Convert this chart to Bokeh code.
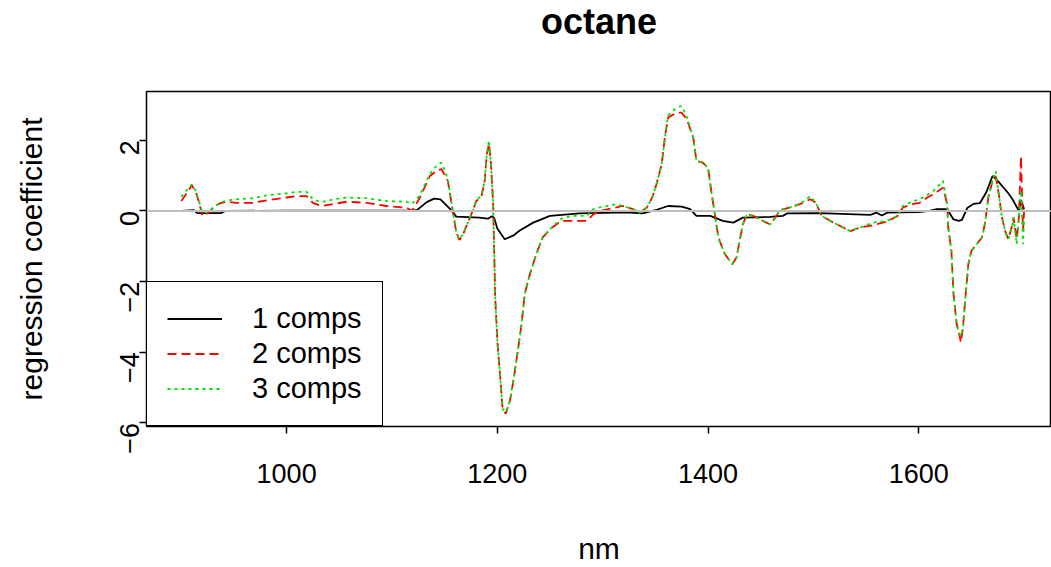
import math
from bokeh.plotting import figure
from bokeh.models import Span, Legend, LegendItem, FixedTicker, Range1d, Title
from bokeh.embed import file_html
from bokeh.resources import INLINE

# ---- data ----
title_text = "octane"
x_label = "nm"
y_label = "regression coefficient"
series_names = ["1 comps", "2 comps", "3 comps"]
x_ticks = [1000, 1200, 1400, 1600]
y_ticks = [-6, -4, -2, 0, 2]

nm_1 = [900, 912, 915, 938, 942, 1000, 1120, 1124, 1133, 1140, 1146, 1157, 1161, 1183,
        1191, 1195, 1197, 1200, 1207, 1215, 1221, 1234, 1250, 1278, 1313, 1326, 1338,
        1350, 1362, 1375, 1383, 1389, 1402, 1414, 1424, 1433, 1459, 1471, 1475, 1506,
        1554, 1560, 1565, 1570, 1582, 1600, 1610, 1617, 1627, 1633, 1638, 1641, 1646,
        1652, 1658, 1664, 1670, 1675, 1685, 1689, 1695, 1697, 1700]
comp1 = [0.0, 0.02, -0.06, -0.06, 0.0, 0.01, 0.01, 0.03, 0.25, 0.35, 0.33, 0.0, -0.16, -0.19,
         -0.22, -0.15, -0.2, -0.5, -0.8, -0.7, -0.56, -0.33, -0.14, -0.07, -0.05, -0.05, -0.07,
         0.02, 0.14, 0.12, 0.05, -0.14, -0.14, -0.28, -0.33, -0.19, -0.17, -0.14, -0.07, -0.06,
         -0.11, -0.05, -0.13, -0.05, -0.04, -0.03, 0.0, 0.05, 0.05, -0.24, -0.28, -0.25, 0.08,
         0.2, 0.22, 0.52, 0.99, 0.85, 0.5, 0.33, 0.0, 0.3, 0.05]

nm_23 = [900, 904, 910, 914, 917, 920, 926, 932, 938, 944, 952, 968, 981, 1000, 1010, 1019,
         1025, 1033, 1045, 1057, 1076, 1095, 1114, 1119, 1126, 1136, 1143, 1147, 1153, 1158,
         1161, 1164, 1167, 1172, 1176, 1180, 1185, 1188, 1190, 1192, 1194, 1196, 1198, 1200,
         1203, 1205, 1208, 1212, 1215, 1219, 1223, 1226, 1231, 1237, 1243, 1252, 1261, 1270,
         1285, 1291, 1297, 1313, 1319, 1329, 1335, 1342, 1347, 1351, 1356, 1359, 1362, 1370,
         1375, 1380, 1386, 1389, 1395, 1400, 1403, 1406, 1409, 1411, 1416, 1423, 1427, 1430,
         1433, 1437, 1443, 1452, 1459, 1465, 1468, 1478, 1487, 1497, 1502, 1508, 1519, 1535,
         1544, 1557, 1570, 1580, 1585, 1595, 1601, 1608, 1614, 1623, 1627, 1628, 1631, 1633,
         1635, 1636, 1638, 1640, 1642, 1644, 1646, 1647, 1650, 1655, 1660, 1663, 1666, 1670,
         1673, 1676, 1679, 1682, 1685, 1689, 1690, 1693, 1695, 1697, 1699, 1700]
comp2 = [0.28, 0.45, 0.73, 0.52, 0.23, -0.14, -0.05, 0.14, 0.23, 0.26, 0.23, 0.23, 0.30, 0.38,
         0.42, 0.42, 0.23, 0.14, 0.20, 0.26, 0.23, 0.14, 0.09, 0.0, 0.35, 0.99, 1.15, 1.18, 0.85,
         -0.05, -0.6, -0.82, -0.70, -0.33, -0.05, 0.28, 0.42, 0.85, 1.6, 1.9, 1.33, 0.2, -2.45,
         -3.67, -4.8, -5.6, -5.74, -5.37, -4.85, -4.05, -3.2, -2.35, -1.78, -1.22, -0.75, -0.47,
         -0.28, -0.28, -0.28, -0.10, 0.0, 0.10, 0.14, 0.05, -0.05, 0.1, 0.38, 0.75, 1.32, 2.07,
         2.64, 2.78, 2.78, 2.59, 2.07, 1.41, 1.37, 1.22, 0.57, 0.0, -0.6, -0.85, -1.22, -1.51,
         -1.32, -0.85, -0.38, -0.09, -0.14, -0.28, -0.38, -0.14, 0.02, 0.1, 0.19, 0.33, 0.24,
         -0.14, -0.33, -0.57, -0.47, -0.40, -0.30, -0.14, 0.10, 0.20, 0.23, 0.38, 0.47, 0.66,
         0.19, -0.47, -1.13, -2.36, -2.92, -3.2, -3.44, -3.72, -3.3, -2.54, -1.88, -1.51, -1.13,
         -0.94, -0.75, -0.33, 0.38, 0.85, 0.99, 0.47, -0.19, -0.57, -0.8, -0.38, -0.19, -0.8,
         -0.19, 1.55, -0.57, 0.0]
comp3 = [0.40, 0.55, 0.75, 0.55, 0.25, -0.05, -0.02, 0.14, 0.25, 0.30, 0.33, 0.36, 0.44, 0.50,
         0.54, 0.54, 0.33, 0.25, 0.33, 0.38, 0.36, 0.28, 0.26, 0.2, 0.42, 1.05, 1.30, 1.37, 0.90,
         -0.05, -0.6, -0.80, -0.68, -0.33, -0.05, 0.28, 0.45, 0.85, 1.6, 2.0, 1.33, 0.2, -2.45,
         -3.67, -4.8, -5.6, -5.70, -5.37, -4.85, -4.05, -3.2, -2.35, -1.78, -1.22, -0.75, -0.45,
         -0.22, -0.14, -0.14, 0.05, 0.10, 0.19, 0.14, 0.05, -0.05, 0.1, 0.38, 0.75, 1.32, 2.07,
         2.70, 2.92, 2.97, 2.65, 2.07, 1.41, 1.37, 1.22, 0.57, 0.0, -0.6, -0.85, -1.22, -1.51,
         -1.32, -0.85, -0.38, -0.09, -0.14, -0.28, -0.38, -0.14, 0.02, 0.1, 0.19, 0.42, 0.24,
         -0.14, -0.33, -0.57, -0.47, -0.33, -0.28, -0.14, 0.14, 0.28, 0.33, 0.45, 0.57, 0.85,
         0.19, -0.47, -1.13, -2.36, -2.92, -3.2, -3.44, -3.55, -3.3, -2.54, -1.88, -1.51, -1.13,
         -0.94, -0.75, -0.33, 0.38, 0.85, 1.13, 0.47, -0.19, -0.57, -0.8, -0.38, -0.19, -0.94,
         -0.19, 0.57, -0.94, -0.2]

FONT = "Liberation Sans"

p = figure(width=1051, height=567, output_backend="svg", toolbar_location=None,
           x_range=Range1d(867, 1726), y_range=Range1d(-6.1, 3.38),
           min_border_left=146, min_border_right=0, min_border_top=91, min_border_bottom=141,
           title=title_text)

p.title.text_font = FONT
p.title.text_font_size = "36px"
p.title.text_font_style = "bold"
p.title.text_color = "black"
p.title.align = "center"
p.title.vertical_align = "top"
p.title.standoff = 0

# invisible spacer between the title and the frame
p.add_layout(Title(text=" ", text_font_size="1px", standoff=45), "above")

p.xgrid.visible = False
p.ygrid.visible = False
p.outline_line_color = "black"
p.outline_line_width = 1.5
p.outline_line_alpha = 1.0
p.background_fill_color = "white"
p.border_fill_color = "white"

for ax in (p.xaxis[0], p.yaxis[0]):
    ax.axis_line_color = None
    ax.major_tick_out = 7
    ax.major_tick_in = 0
    ax.major_tick_line_width = 1.5
    ax.major_tick_line_color = "black"
    ax.minor_tick_line_color = None
    ax.major_label_text_font = FONT
    ax.major_label_text_font_size = "27px"
    ax.major_label_text_color = "black"
    ax.axis_label_text_font = FONT
    ax.axis_label_text_font_size = "30px"
    ax.axis_label_text_font_style = "normal"
    ax.axis_label_text_color = "black"

p.xaxis[0].ticker = FixedTicker(ticks=x_ticks)
p.yaxis[0].ticker = FixedTicker(ticks=y_ticks)
p.xaxis[0].axis_label = x_label
p.yaxis[0].axis_label = y_label
p.xaxis[0].major_label_standoff = 30
p.xaxis[0].axis_label_standoff = 46
p.yaxis[0].major_label_orientation = math.pi / 2
p.yaxis[0].major_label_standoff = 10
p.yaxis[0].axis_label_standoff = 60

r1 = p.line(nm_1, comp1, line_color="black", line_width=1.8)
r2 = p.line(nm_23, comp2, line_color="#FF0000", line_width=1.8, line_dash="9 5")
r3 = p.line(nm_23, comp3, line_color="#00E600", line_width=1.8, line_dash="3 4")

p.add_layout(Span(location=0, dimension="width", line_color="#BEBEBE", line_width=2))

legend = Legend(items=[LegendItem(label=series_names[0], renderers=[r1]),
                       LegendItem(label=series_names[1], renderers=[r2]),
                       LegendItem(label=series_names[2], renderers=[r3])],
                location="bottom_left", margin=0, padding=20, spacing=2,
                label_text_font=FONT, label_text_font_size="29px", label_text_color="black",
                glyph_width=55, glyph_height=33, label_height=33, label_standoff=30,
                border_line_color="black", border_line_width=1.5, border_line_alpha=1.0,
                background_fill_color="white", background_fill_alpha=1.0)
p.add_layout(legend)

open("out.html", "w").write(file_html(p, INLINE))
